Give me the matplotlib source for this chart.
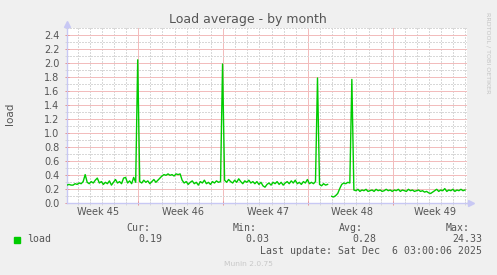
import numpy as np
import matplotlib.pyplot as plt
from matplotlib.patches import Rectangle
from matplotlib.transforms import blended_transform_factory

W, H = 497, 275

# load average, one sample every 4 hours over the last 33 days (nan = no data)
load = [
    0.26, 0.27, 0.26, 0.26, 0.28, 0.27, 0.29, 0.28, 0.31,
    0.41,
    0.30, 0.28, 0.31, 0.29, 0.33, 0.36, 0.29, 0.31, 0.27, 0.30,
    0.28, 0.32, 0.26, 0.30, 0.34, 0.29, 0.31, 0.28, 0.36, 0.37,
    0.29, 0.32, 0.28, 0.37, 0.30,
    2.05,
    0.31, 0.29, 0.33, 0.30, 0.32, 0.28, 0.31, 0.34, 0.30, 0.33, 0.36,
    0.39, 0.41, 0.40, 0.42, 0.40, 0.41, 0.39, 0.42, 0.41, 0.42,
    0.33,
    0.29, 0.31, 0.27, 0.30, 0.32, 0.28, 0.30, 0.26, 0.31, 0.29,
    0.33, 0.28, 0.30, 0.27, 0.31, 0.29, 0.32, 0.30, 0.31,
    1.99,
    0.33, 0.30, 0.34, 0.31, 0.29, 0.33, 0.30, 0.35, 0.31, 0.28,
    0.32, 0.30, 0.33, 0.29, 0.31, 0.28, 0.31, 0.27, 0.30, 0.25,
    0.23, 0.27, 0.29, 0.26, 0.30, 0.28, 0.31, 0.27, 0.30, 0.26,
    0.29, 0.31, 0.28, 0.32, 0.29, 0.33, 0.28, 0.30, 0.27, 0.31,
    0.29, 0.34, 0.28, 0.30, 0.28, 0.31,
    1.79,
    0.27, 0.25, 0.28, 0.26, 0.27,
    np.nan,
    0.10, 0.09, 0.11, 0.14, 0.21, 0.27, 0.29, 0.28, 0.30, 0.29,
    1.77,
    0.19, 0.18, 0.20, 0.17, 0.19, 0.18, 0.20, 0.17, 0.18, 0.19,
    0.17, 0.20, 0.18, 0.19, 0.17, 0.18, 0.20, 0.18, 0.19, 0.17,
    0.19, 0.18, 0.20, 0.17, 0.19, 0.18, 0.17, 0.20, 0.18, 0.19,
    0.17, 0.18, 0.19, 0.17, 0.18, 0.16, 0.17, 0.15, 0.14, 0.16,
    0.18, 0.20, 0.17, 0.19, 0.18, 0.21, 0.17, 0.19, 0.18, 0.20,
    0.17, 0.19, 0.18, 0.20, 0.18, 0.19,
]

# week boundaries and label positions, in days before the last update
week_starts = [-27.125, -20.125, -13.125, -6.125]
week_labels = ["Week 45", "Week 46", "Week 47", "Week 48", "Week 49"]
week_label_pos = [-30.45, -23.45, -16.45, -9.5, -2.6]

series_name = "load"
cur_val, min_val, avg_val, max_val = "0.19", "0.03", "0.28", "24.33"
last_update = "Last update: Sat Dec  6 03:00:06 2025"

days = np.arange(len(load)) / 6 - 33

TXT = "#555555"
GREEN = "#00CC00"
AXIS = "#C8C8F4"
MGRID = "#F2BCBC"
GRID = "#D8D8D8"


def fx(x):
    return x / W


def fy(y):
    return 1 - y / H


fig = plt.figure(figsize=(W / 100, H / 100), dpi=100, facecolor="#F0F0F0")
ax = fig.add_axes([fx(67), fy(203.3), 400 / W, 175 / H])
ax.set_facecolor("white")

ax.plot(days, load, color=GREEN, lw=1.0, zorder=3)
ax.set_xlim(-33, 0)
ax.set_ylim(0, 2.5)

# grid: days / weeks, 0.1 / 0.2
ax.set_xticks(week_starts)
ax.set_xticks([w - 6.125 for w in range(-26, 7) if w % 7 != 0], minor=True)
ax.set_xticklabels([])
ax.set_yticks(np.arange(0, 2.41, 0.2))
ax.set_yticks(np.arange(0.1, 2.51, 0.2), minor=True)
ax.set_yticklabels([f"{v:.1f}" for v in np.arange(0, 2.41, 0.2)])
ax.set_axisbelow(True)
ax.grid(which="minor", color=GRID, ls=(0, (1.4, 1.4)), lw=0.72, antialiased=False)
ax.grid(which="major", color=MGRID, ls="-", lw=0.72, snap=True)

ax.tick_params(axis="both", which="both", direction="inout", length=3,
               width=0.72, labelsize=7, labelcolor=TXT)
ax.tick_params(axis="x", which="major", color="#E89090")
ax.tick_params(axis="x", which="minor", color=GRID)
ax.tick_params(axis="y", which="major", color="#E89090", pad=4)
ax.tick_params(axis="y", which="minor", color=GRID)

for s in ["top", "right"]:
    ax.spines[s].set_visible(False)
for s in ["left", "bottom"]:
    ax.spines[s].set_color(AXIS)
    ax.spines[s].set_linewidth(1.0)

# axis arrows
ax.plot([0, 0], [1.0, 1.025], color=AXIS, lw=1.0, transform=ax.transAxes, clip_on=False)
ax.plot([1.0, 1.009], [0, 0], color=AXIS, lw=1.0, transform=ax.transAxes, clip_on=False)
ax.plot([0], [1.025], marker="^", ms=4, color=AXIS, mec=AXIS,
        transform=ax.transAxes, clip_on=False)
ax.plot([1.009], [0], marker=">", ms=4, color=AXIS, mec=AXIS,
        transform=ax.transAxes, clip_on=False)

trans = blended_transform_factory(ax.transData, ax.transAxes)
for pos, lab in zip(week_label_pos, week_labels):
    ax.text(pos, -0.051, lab, transform=trans, ha="center", va="center",
            fontsize=7, color=TXT)

fig.text(fx(248), fy(19), "Load average - by month", ha="center", va="center",
         fontsize=9, color=TXT)
fig.text(fx(10), fy(114), "load", rotation=90, ha="center", va="center",
         fontsize=7.5, color=TXT)
fig.text(fx(488), fy(53), "RRDTOOL / TOBI OETIKER", rotation=270, ha="center",
         va="center", fontsize=4.6, color="#C4C4C4")

mono = dict(family="DejaVu Sans Mono", fontsize=7.1, color=TXT, va="center")
fig.patches.append(Rectangle((fx(14), fy(242.5)), 6 / W, 6 / H,
                             transform=fig.transFigure, color=GREEN))
fig.text(fx(27), fy(239.3), series_name, ha="left", **mono)
for right, head, val_right, val in [(150, "Cur:", 162.3, cur_val),
                                    (257, "Min:", 269.3, min_val),
                                    (363.3, "Avg:", 376, avg_val),
                                    (470, "Max:", 482.3, max_val)]:
    fig.text(fx(right), fy(227.7), head, ha="right", **mono)
    fig.text(fx(val_right), fy(239.3), val, ha="right", **mono)
fig.text(fx(482.3), fy(251.3), last_update, ha="right", **mono)

fig.text(fx(248), fy(264.3), "Munin 2.0.75", ha="center", va="center",
         fontsize=5.4, color="#C8C8C8")

fig.savefig("out.png", dpi=100, facecolor=fig.get_facecolor())
